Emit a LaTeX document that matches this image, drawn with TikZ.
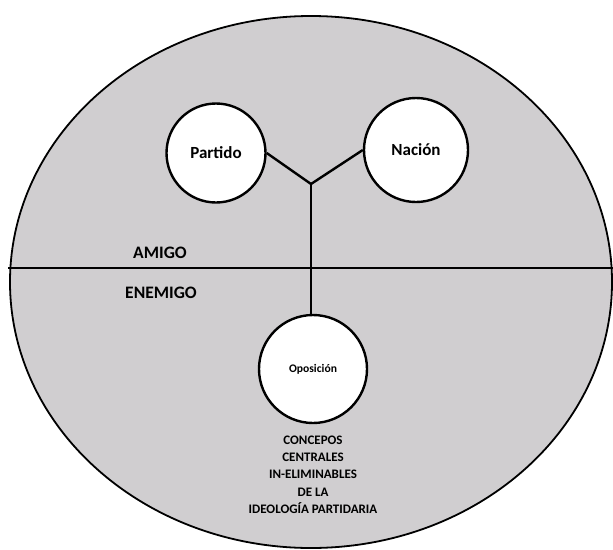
\documentclass[tikz,border=0pt]{standalone}
\usepackage{fontspec}
\setmainfont{Carlito}
\definecolor{mygray}{RGB}{208,206,208}

\tikzset{
    concept/.style={circle, draw=black, line width=2.4pt, fill=white, inner sep=0pt,
        font=\bfseries\fontsize{17}{20}\selectfont},
    side/.style={font=\bfseries\fontsize{17.5}{20}\selectfont}
}

\begin{document}
\begin{tikzpicture}[x=1pt, y=-1pt]
    \useasboundingbox (0,0) rectangle (613,549);
    % Ambito amigo / enemigo
    \begin{scope}
        \clip (0,0) rectangle (613,549);
        \draw[fill=mygray, line width=1.8pt] (311,282) ellipse [x radius=301, y radius=266];
    \end{scope}
    \coordinate (left) at (8,268);
    \coordinate (right) at (613,268);
    \draw[line width=2.7pt] (left) -- (right);
    \node[side] (amigo) at (160,253) {AMIGO};
    \node[side] (enemigo) at (161,293) {ENEMIGO};

    % Conceptos
    \node[concept, minimum size=99pt] (partido) at (216,153) {Partido};
    \node[concept, minimum size=104pt] (nacion) at (416,150) {Nación};
    \node[concept, minimum size=108pt, font=\bfseries\fontsize{11.6}{14}\selectfont] (oposicion) at (313,369) {Oposición};
    \coordinate (junc) at (311,184);
    \draw[line width=2.4pt] (partido.east) -- (junc) -- (nacion.west);
    \draw[line width=2.4pt] (junc) -- (junc |- oposicion.north);

    \node[anchor=north, inner sep=0pt, align=center, font=\bfseries\fontsize{13}{17.3}\selectfont] (texto) at (313,435.6)
        {CONCEPOS\\CENTRALES\\IN-ELIMINABLES\\DE LA\\IDEOLOGÍA PARTIDARIA};
\end{tikzpicture}
\end{document}
